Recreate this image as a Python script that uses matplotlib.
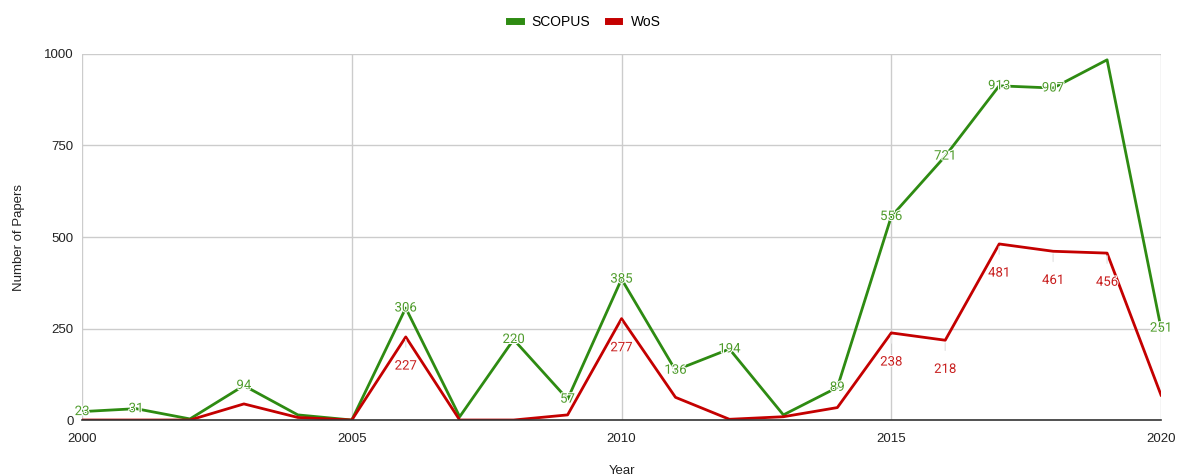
import matplotlib
matplotlib.use("Agg")
from matplotlib import pyplot as plt
import matplotlib.patheffects as pe

years = list(range(2000, 2021))
scopus = [23, 31, 3, 94, 14, 0, 306, 9, 220, 57, 385, 136, 194, 14, 89, 556, 721, 913, 907, 984, 251]
wos = [0, 0, 0, 44, 7, 0, 227, 0, 0, 14, 277, 62, 2, 9, 34, 238, 218, 481, 461, 456, 68]

# years whose value is written on the chart
scopus_labeled = [2000, 2001, 2003, 2006, 2008, 2009, 2010, 2011, 2012, 2014, 2015, 2016, 2017, 2018, 2020]
wos_labeled = [2006, 2010, 2015, 2016, 2017, 2018, 2019]

x_ticks = [2000, 2005, 2010, 2015, 2020]
y_ticks = [0, 250, 500, 750, 1000]

green = '#2e8b12'
red = '#c40000'
green_txt = '#4f9c2c'
red_txt = '#c81e1e'

fig = plt.figure(figsize=(11.84, 4.76), dpi=100)
ax = fig.add_axes([0.0693, 0.1176, 0.9806 - 0.0693, 0.8866 - 0.1176])

ax.plot(years, scopus, color=green, linewidth=2, label='SCOPUS', zorder=3)
ax.plot(years, wos, color=red, linewidth=2, label='WoS', zorder=3)

halo = [pe.withStroke(linewidth=1.5, foreground='white')]
for yr, v in zip(years, scopus):
    if yr in scopus_labeled:
        ax.text(yr, v, str(v), color=green_txt, fontsize=9.5, family='Roboto',
                ha='center', va='center', zorder=5, path_effects=halo)

for yr, v in zip(years, wos):
    if yr in wos_labeled:
        ax.annotate(str(v), xy=(yr, v), xytext=(0, -21), textcoords='offset points',
                    color=red_txt, fontsize=9.5, family='Roboto', ha='center', va='center',
                    zorder=5, path_effects=halo,
                    arrowprops=dict(arrowstyle='-', color='#e6e6e6', lw=1,
                                    shrinkA=7, shrinkB=2))

ax.set_xlim(2000, 2020)
ax.set_ylim(0, 1000)
ax.set_xticks(x_ticks)
ax.set_yticks(y_ticks)
ax.set_xticklabels([str(t) for t in x_ticks], family='Liberation Sans', fontsize=9.5, color='#222222')
ax.set_yticklabels([str(t) for t in y_ticks], family='Liberation Sans', fontsize=9.5, color='#222222')
ax.tick_params(axis='y', length=0, pad=6)
ax.tick_params(axis='x', length=0, pad=9)
ax.grid(True, color='#cccccc', linewidth=1)
ax.set_axisbelow(True)
for s in ['top', 'right', 'left']:
    ax.spines[s].set_visible(False)
ax.spines['bottom'].set_color('#333333')
ax.spines['bottom'].set_linewidth(1.2)
ax.spines['bottom'].set_zorder(4)

ax.set_xlabel('Year', family='Liberation Sans', fontsize=9.5, labelpad=15, color='#222222')
ax.set_ylabel('Number of Papers', family='Liberation Sans', fontsize=9.5, labelpad=14, color='#222222')

fig.legend(loc='upper center', bbox_to_anchor=(0.494, 0.995), ncol=2, frameon=False,
           prop={'family': 'Liberation Sans', 'size': 10}, handlelength=0.8,
           columnspacing=1.3, handletextpad=0.8)
for line in fig.legends[0].get_lines():
    line.set_linewidth(5)

fig.savefig('out.png', dpi=100)
